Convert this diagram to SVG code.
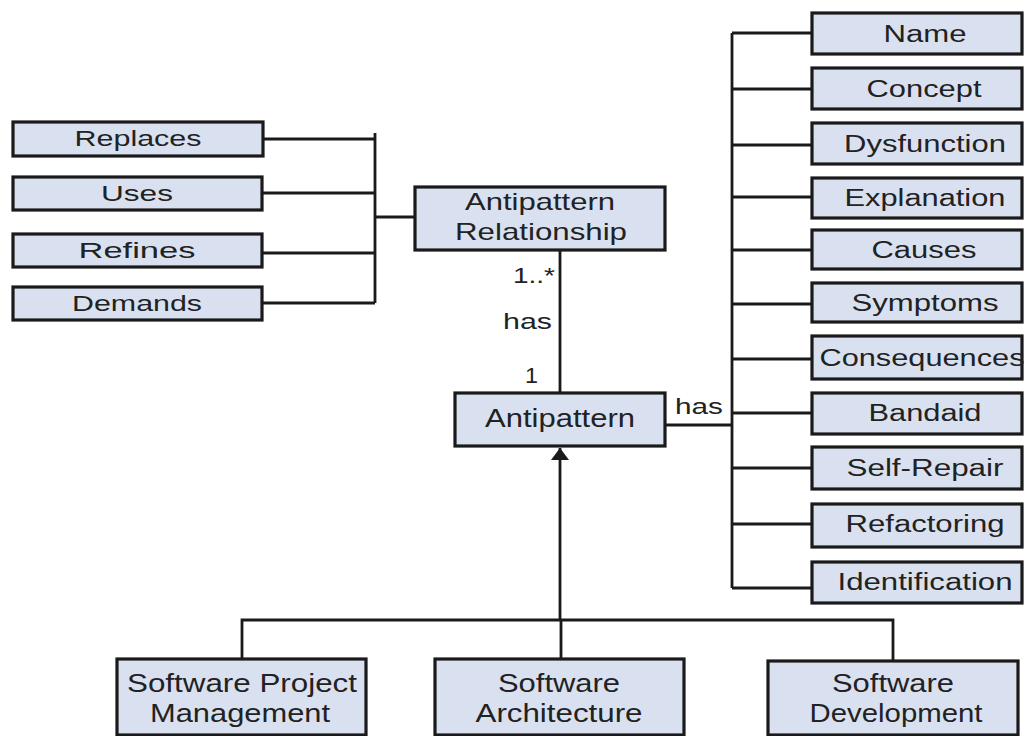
<svg xmlns="http://www.w3.org/2000/svg" width="1027" height="736" viewBox="0 0 1027 736">
  <style>
    .box { fill: #d9e1f1; stroke: #1a1a1a; stroke-width: 3.2; }
    .lbl { font-family: "Liberation Sans", Arial, sans-serif; fill: #222222; text-anchor: middle; }
    .s22 { font-size: 22px; }
    .s23 { font-size: 23.5px; }
    .s24 { font-size: 24px; }
    .s26 { font-size: 26px; }
    .ann { font-family: "Liberation Sans", Arial, sans-serif; font-size: 22px; fill: #222222; }
    .wire { fill: none; stroke: #1a1a1a; stroke-width: 2.8; }
  </style>
  <defs>
    <marker id="gen" viewBox="0 0 12 18" refX="12" refY="9" markerWidth="12" markerHeight="18" markerUnits="userSpaceOnUse" orient="auto">
      <path d="M0,0 L12,9 L0,18 Z" fill="#1a1a1a"/>
    </marker>
  </defs>

  <rect width="1027" height="736" fill="#ffffff"/>

  <!-- connectors -->
  <g id="connectors">
    <!-- relationship kinds bus -->
    <path class="wire" d="M375,133 V303 M263,139 H375 M262,193 H375 M262,253 H375 M262,303 H375 M375,217 H415"/>
    <!-- relationship to antipattern -->
    <path class="wire" d="M560,250 V393"/>
    <!-- antipattern attributes bus -->
    <path class="wire" d="M665,425 H732 M732,33 V588 M732,33 H812 M732,89 H812 M732,145 H812 M732,197 H812 M732,250 H812 M732,304 H812 M732,359 H812 M732,413 H812 M732,468 H812 M732,524 H812 M732,588 H812"/>
    <!-- specialisations -->
    <path class="wire" d="M242,659 V620 H893 V661 M561,659 V620"/>
    <path class="wire" d="M560,620 V448" marker-end="url(#gen)"/>
  </g>

  <!-- relationship kinds -->
  <g id="replaces">
    <rect class="box" x="13" y="122" width="250" height="34"/>
    <text class="lbl s22" x="138" y="146" textLength="127" lengthAdjust="spacingAndGlyphs">Replaces</text>
  </g>
  <g id="uses">
    <rect class="box" x="13" y="177" width="249" height="33"/>
    <text class="lbl s22" x="137" y="201" textLength="72" lengthAdjust="spacingAndGlyphs">Uses</text>
  </g>
  <g id="refines">
    <rect class="box" x="13" y="234" width="249" height="33"/>
    <text class="lbl s22" x="137" y="258" textLength="117" lengthAdjust="spacingAndGlyphs">Refines</text>
  </g>
  <g id="demands">
    <rect class="box" x="13" y="287" width="249" height="33"/>
    <text class="lbl s22" x="137" y="311" textLength="130" lengthAdjust="spacingAndGlyphs">Demands</text>
  </g>

  <g id="antipattern-relationship">
    <rect class="box" x="415" y="187" width="250" height="63"/>
    <text class="lbl s24" x="540" y="210" textLength="150" lengthAdjust="spacingAndGlyphs">Antipattern</text>
    <text class="lbl s24" x="541" y="240" textLength="172" lengthAdjust="spacingAndGlyphs">Relationship</text>
  </g>

  <g id="antipattern">
    <rect class="box" x="455" y="393" width="210" height="53"/>
    <text class="lbl s26" x="560" y="427" textLength="150" lengthAdjust="spacingAndGlyphs">Antipattern</text>
  </g>

  <!-- association labels -->
  <g id="labels">
    <text class="ann" x="513" y="283" textLength="42" lengthAdjust="spacingAndGlyphs">1..*</text>
    <text class="ann" x="503" y="329" textLength="49" lengthAdjust="spacingAndGlyphs">has</text>
    <text class="ann" x="525" y="383" textLength="13" lengthAdjust="spacingAndGlyphs">1</text>
    <text class="ann" x="675" y="414" textLength="48" lengthAdjust="spacingAndGlyphs">has</text>
  </g>

  <!-- antipattern attributes -->
  <g id="name">
    <rect class="box" x="812" y="13" width="210" height="41"/>
    <text class="lbl s23" x="925" y="42" textLength="83" lengthAdjust="spacingAndGlyphs">Name</text>
  </g>
  <g id="concept">
    <rect class="box" x="812" y="68" width="210" height="41"/>
    <text class="lbl s23" x="924" y="97" textLength="115" lengthAdjust="spacingAndGlyphs">Concept</text>
  </g>
  <g id="dysfunction">
    <rect class="box" x="812" y="123" width="210" height="41"/>
    <text class="lbl s23" x="925" y="152" textLength="162" lengthAdjust="spacingAndGlyphs">Dysfunction</text>
  </g>
  <g id="explanation">
    <rect class="box" x="812" y="178" width="210" height="40"/>
    <text class="lbl s23" x="925" y="206" textLength="161" lengthAdjust="spacingAndGlyphs">Explanation</text>
  </g>
  <g id="causes">
    <rect class="box" x="812" y="230" width="210" height="39"/>
    <text class="lbl s23" x="924" y="258" textLength="105" lengthAdjust="spacingAndGlyphs">Causes</text>
  </g>
  <g id="symptoms">
    <rect class="box" x="812" y="283" width="210" height="39"/>
    <text class="lbl s23" x="925" y="311" textLength="147" lengthAdjust="spacingAndGlyphs">Symptoms</text>
  </g>
  <g id="consequences">
    <rect class="box" x="812" y="336" width="210" height="43"/>
    <text class="lbl s23" x="922" y="366" textLength="205" lengthAdjust="spacingAndGlyphs">Consequences</text>
  </g>
  <g id="bandaid">
    <rect class="box" x="812" y="393" width="210" height="41"/>
    <text class="lbl s23" x="925" y="421" textLength="113" lengthAdjust="spacingAndGlyphs">Bandaid</text>
  </g>
  <g id="self-repair">
    <rect class="box" x="812" y="447" width="210" height="42"/>
    <text class="lbl s23" x="925" y="476" textLength="157" lengthAdjust="spacingAndGlyphs">Self-Repair</text>
  </g>
  <g id="refactoring">
    <rect class="box" x="812" y="504" width="210" height="43"/>
    <text class="lbl s23" x="925" y="532" textLength="159" lengthAdjust="spacingAndGlyphs">Refactoring</text>
  </g>
  <g id="identification">
    <rect class="box" x="812" y="562" width="210" height="41"/>
    <text class="lbl s23" x="925" y="590" textLength="175" lengthAdjust="spacingAndGlyphs">Identification</text>
  </g>

  <!-- domains -->
  <g id="software-project-management">
    <rect class="box" x="117" y="659" width="249" height="76"/>
    <text class="lbl s26" x="242" y="692" textLength="230" lengthAdjust="spacingAndGlyphs">Software Project</text>
    <text class="lbl s26" x="240" y="722" textLength="180" lengthAdjust="spacingAndGlyphs">Management</text>
  </g>
  <g id="software-architecture">
    <rect class="box" x="435" y="659" width="249" height="76"/>
    <text class="lbl s26" x="559" y="692" textLength="122" lengthAdjust="spacingAndGlyphs">Software</text>
    <text class="lbl s26" x="559" y="722" textLength="167" lengthAdjust="spacingAndGlyphs">Architecture</text>
  </g>
  <g id="software-development">
    <rect class="box" x="768" y="661" width="250" height="74"/>
    <text class="lbl s26" x="893" y="692" textLength="122" lengthAdjust="spacingAndGlyphs">Software</text>
    <text class="lbl s26" x="896" y="722" textLength="173" lengthAdjust="spacingAndGlyphs">Development</text>
  </g>
</svg>
